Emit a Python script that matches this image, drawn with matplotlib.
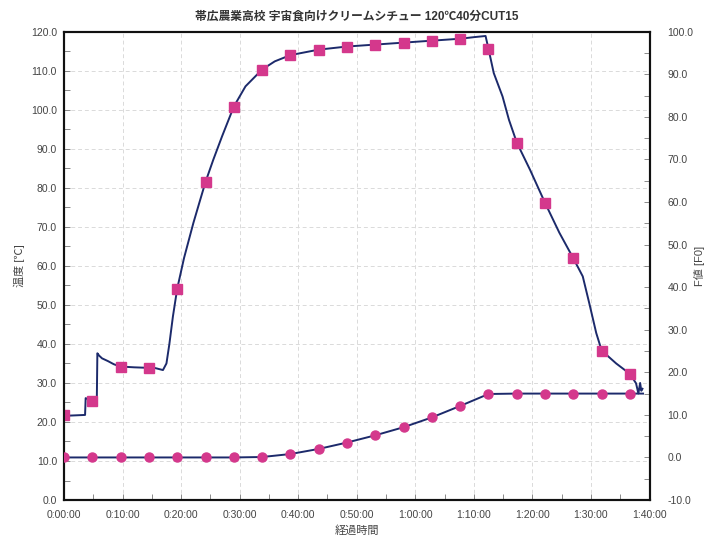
import numpy as np
import matplotlib
matplotlib.use('Agg')
import matplotlib.pyplot as plt
from matplotlib.ticker import MultipleLocator, FuncFormatter

plt.rcParams['font.family'] = ['Liberation Sans', 'Noto Sans CJK JP', 'DejaVu Sans']

# retort log: product temperature (continuous trace), minutes from start
temp_min = [0.0, 0.5, 3.6, 3.7, 4.5, 5.6, 5.7, 6.0, 6.5, 7.5, 8.5, 9.6, 12.0, 15.6,
            16.9, 17.5, 18.0, 18.6, 19.33, 20.5, 22.1, 23.2, 24.17, 25.5, 27.0, 29.0,
            31.0, 33.83, 36.0, 38.67, 43.5, 48.33, 53.17, 58.0, 62.83, 67.67, 70.0,
            72.0, 72.5, 73.4, 74.9, 76.0, 77.33, 79.6, 82.17, 84.6, 87.0, 88.6, 89.7,
            90.9, 91.83, 94.3, 96.67, 97.7, 98.1, 98.4, 98.6, 98.8]
temp_val = [21.5, 21.6, 21.8, 26.1, 25.6, 25.0, 37.6, 37.0, 36.3, 35.6, 34.8, 34.2,
            34.0, 33.8, 33.3, 35.0, 40.0, 47.0, 54.1, 62.0, 71.0, 76.6, 81.5, 87.2,
            93.2, 100.8, 106.0, 110.3, 112.4, 114.0, 115.4, 116.2, 116.7, 117.2,
            117.7, 118.2, 118.6, 118.9, 115.6, 109.4, 103.4, 97.4, 91.6, 84.6, 76.1,
            68.5, 61.9, 57.3, 50.5, 42.8, 38.3, 35.0, 32.3, 29.9, 27.3, 30.0, 28.0, 28.5]

# sampled points (every 4:50)
mark_min = [0.0, 4.83, 9.67, 14.5, 19.33, 24.17, 29.0, 33.83, 38.67, 43.5, 48.33,
            53.17, 58.0, 62.83, 67.67, 72.5, 77.33, 82.17, 87.0, 91.83, 96.67]
mark_temp = [21.8, 25.4, 34.1, 33.8, 54.1, 81.5, 100.8, 110.3, 114.0, 115.4, 116.2,
             116.7, 117.2, 117.7, 118.2, 115.6, 91.6, 76.1, 61.9, 38.3, 32.3]
mark_f0 = [0.0, 0.0, 0.0, 0.0, 0.0, 0.0, 0.0, 0.1, 0.8, 2.0, 3.5,
           5.2, 7.1, 9.4, 12.1, 14.9, 15.0, 15.0, 15.0, 15.0, 15.0]
f0_end_min = 98.9
f0_end_val = 15.0

line_col = '#1c2a6b'
mark_col = '#d4388c'
text_col = '#444444'

fig = plt.figure(figsize=(7.15, 5.57), dpi=100)
ax = fig.add_axes([0.0895, 0.1023, 0.8189, 0.8408])
ax2 = ax.twinx()

ax.plot(temp_min, temp_val, color=line_col, lw=1.4, zorder=3)
ax.plot(mark_min, mark_temp, ls='none', marker='s', ms=7, color=mark_col,
        mec=mark_col, zorder=4)

ax2.plot(mark_min + [f0_end_min], mark_f0 + [f0_end_val], color=line_col, lw=1.4, zorder=3)
ax2.plot(mark_min, mark_f0, ls='none', marker='o', ms=6.5, color=mark_col,
         mec=mark_col, zorder=4)

ax.set_xlim(0, 100)
ax.set_ylim(0, 120)
ax2.set_ylim(-10, 100)

ax.xaxis.set_major_locator(MultipleLocator(10))
ax.xaxis.set_minor_locator(MultipleLocator(5))
ax.yaxis.set_major_locator(MultipleLocator(10))
ax.yaxis.set_minor_locator(MultipleLocator(5))
ax2.yaxis.set_major_locator(MultipleLocator(10))
ax2.yaxis.set_minor_locator(MultipleLocator(5))

ax.xaxis.set_major_formatter(FuncFormatter(lambda v, p: '%d:%02d:00' % (int(v) // 60, int(v) % 60)))
ax.yaxis.set_major_formatter(FuncFormatter(lambda v, p: '%.1f' % v))
ax2.yaxis.set_major_formatter(FuncFormatter(lambda v, p: '%.1f' % v))

ax.grid(True, which='major', color='#dadada', lw=0.7, ls=(0, (4, 3)))

ax.tick_params(axis='x', which='both', direction='in', length=4, width=0.6,
               color='#777777', labelsize=7.5, labelcolor=text_col, pad=7)
ax.tick_params(axis='y', which='both', direction='in', length=4, width=0.6,
               color='#777777', labelsize=7.5, labelcolor=text_col, pad=5)
ax2.tick_params(axis='y', which='both', direction='in', length=4, width=0.6,
                color='#777777', labelsize=7.5, labelcolor=text_col, pad=13)

for a in (ax, ax2):
    for s in a.spines.values():
        s.set_linewidth(1.5)
        s.set_color('#111111')

ax.set_xlabel('経過時間', fontsize=8, color=text_col, labelpad=4)
ax.set_ylabel('温度 [℃]', fontsize=8, color=text_col, labelpad=4)
ax2.set_ylabel('F値 [F0]', fontsize=8, color=text_col, labelpad=0)
ax.set_title('帯広農業高校 宇宙食向けクリームシチュー 120℃40分CUT15',
             fontsize=8.5, fontweight='bold', color='#333333', pad=9)

fig.savefig('out.png', dpi=100)
